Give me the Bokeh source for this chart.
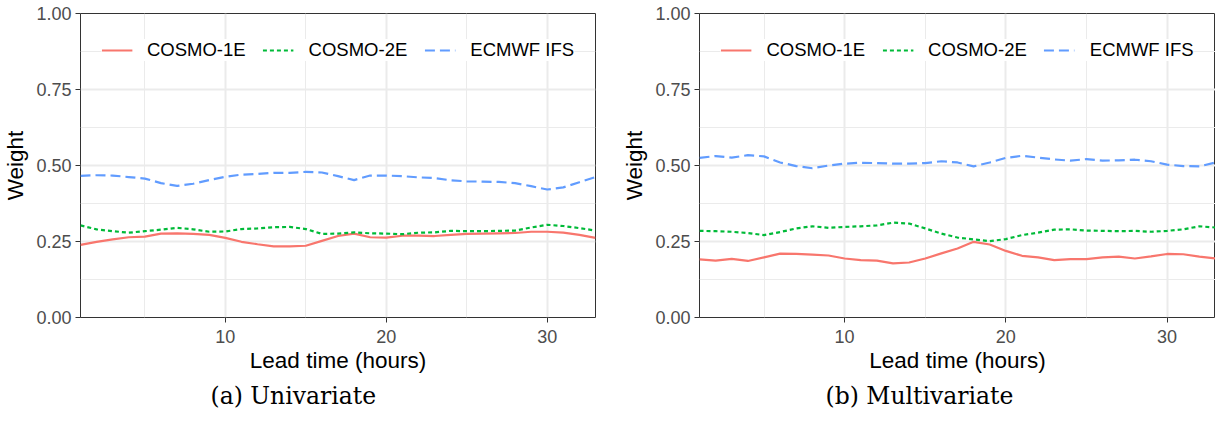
from bokeh.plotting import figure
from bokeh.layouts import row
from bokeh.models import Range1d, FixedTicker, NumeralTickFormatter
from bokeh.embed import file_html
from bokeh.resources import INLINE

# ---- data -------------------------------------------------------------
lead_time = list(range(1, 34))

series_names = ["COSMO-1E", "COSMO-2E", "ECMWF IFS"]

uni_cosmo1e = [0.239, 0.249, 0.257, 0.264, 0.266, 0.276, 0.277, 0.275, 0.272, 0.262,
               0.249, 0.241, 0.234, 0.234, 0.236, 0.252, 0.268, 0.276, 0.264, 0.263,
               0.269, 0.269, 0.268, 0.272, 0.275, 0.276, 0.277, 0.278, 0.282, 0.282,
               0.279, 0.272, 0.262]
uni_cosmo2e = [0.303, 0.290, 0.284, 0.279, 0.284, 0.289, 0.295, 0.290, 0.282, 0.283,
               0.291, 0.293, 0.297, 0.298, 0.291, 0.275, 0.276, 0.280, 0.277, 0.276,
               0.274, 0.279, 0.280, 0.285, 0.284, 0.284, 0.285, 0.286, 0.296, 0.305,
               0.301, 0.294, 0.286]
uni_ecmwf = [0.466, 0.468, 0.467, 0.462, 0.457, 0.442, 0.433, 0.440, 0.452, 0.463,
             0.470, 0.472, 0.476, 0.476, 0.479, 0.477, 0.465, 0.452, 0.467, 0.467,
             0.465, 0.461, 0.459, 0.451, 0.448, 0.447, 0.446, 0.442, 0.432, 0.421,
             0.428, 0.445, 0.462]

multi_cosmo1e = [0.191, 0.187, 0.193, 0.186, 0.198, 0.210, 0.209, 0.207, 0.204, 0.194,
                 0.189, 0.187, 0.178, 0.181, 0.194, 0.211, 0.227, 0.249, 0.240, 0.219,
                 0.203, 0.198, 0.189, 0.192, 0.192, 0.198, 0.200, 0.194, 0.201, 0.209,
                 0.208, 0.200, 0.194]
multi_cosmo2e = [0.285, 0.284, 0.282, 0.278, 0.271, 0.281, 0.293, 0.300, 0.295, 0.298,
                 0.300, 0.303, 0.312, 0.309, 0.293, 0.276, 0.263, 0.257, 0.251, 0.258,
                 0.271, 0.279, 0.289, 0.290, 0.286, 0.285, 0.284, 0.285, 0.282, 0.285,
                 0.290, 0.300, 0.296]
multi_ecmwf = [0.525, 0.531, 0.526, 0.534, 0.530, 0.510, 0.498, 0.491, 0.500, 0.506,
               0.509, 0.508, 0.506, 0.506, 0.508, 0.514, 0.510, 0.497, 0.510, 0.525,
               0.532, 0.526, 0.520, 0.516, 0.521, 0.516, 0.517, 0.519, 0.514, 0.503,
               0.498, 0.497, 0.510]

x_ticks = [10, 20, 30]
x_minor = [5, 15, 25]
y_ticks = [0.0, 0.25, 0.5, 0.75, 1.0]
y_minor = [0.125, 0.375, 0.625, 0.875]

x_label = "Lead time (hours)"
y_label = "Weight"
captions = ["(a) Univariate", "(b) Multivariate"]

# ---- style ------------------------------------------------------------
colors = ["#F8766D", "#00BA38", "#619CFF"]
dashes = ["solid", "4 3", "10 5"]
SANS = "Liberation Sans"

TOP = 13
BOTTOM = 104
FRAME_H = 304


def make_panel(values, caption, width, border_left, border_right, cap_offset):
    p = figure(width=width, height=TOP + FRAME_H + BOTTOM,
               min_border_left=border_left, min_border_right=border_right,
               min_border_top=TOP, min_border_bottom=BOTTOM,
               x_range=Range1d(1, 33), y_range=Range1d(0, 1),
               output_backend="svg", toolbar_location=None,
               title=caption, title_location="below")
    p.background_fill_color = "white"
    p.border_fill_color = "white"
    p.outline_line_color = "#333333"
    p.outline_line_width = 1

    p.xaxis.ticker = FixedTicker(ticks=x_ticks, minor_ticks=x_minor)
    p.yaxis.ticker = FixedTicker(ticks=y_ticks, minor_ticks=y_minor)
    p.yaxis.formatter = NumeralTickFormatter(format="0.00")
    p.xaxis.formatter = NumeralTickFormatter(format="0")

    p.grid.grid_line_color = "#EBEBEB"
    p.grid.grid_line_width = 2
    p.grid.minor_grid_line_color = "#EBEBEB"
    p.grid.minor_grid_line_width = 1

    p.axis.axis_line_color = None
    p.axis.major_tick_line_color = "#333333"
    p.axis.major_tick_out = 5
    p.axis.major_tick_in = 0
    p.axis.minor_tick_line_color = None
    p.axis.major_label_text_font = SANS
    p.axis.major_label_text_font_size = "18px"
    p.axis.major_label_text_color = "#4D4D4D"
    p.yaxis.major_label_standoff = 4
    p.xaxis.major_label_standoff = 7
    p.axis.axis_label_text_font = SANS
    p.axis.axis_label_text_font_size = "22.5px"
    p.axis.axis_label_text_font_style = "normal"
    p.axis.axis_label_text_color = "black"
    p.yaxis.axis_label_standoff = 5
    p.xaxis.axis_label_standoff = 2
    p.xaxis.axis_label = x_label
    p.yaxis.axis_label = y_label

    for name, vals, c, d in zip(series_names, values, colors, dashes):
        p.line(lead_time, vals, color=c, line_width=2.2, line_dash=d,
               legend_label=name)

    lg = p.legend[0]
    lg.location = "top_center"
    lg.orientation = "horizontal"
    lg.label_text_font = SANS
    lg.label_text_font_size = "18.5px"
    lg.label_text_color = "black"
    lg.border_line_color = None
    lg.background_fill_color = "white"
    lg.background_fill_alpha = 1.0
    lg.glyph_width = 31
    lg.glyph_height = 20
    lg.label_standoff = 15
    lg.spacing = 17
    lg.padding = 9
    lg.margin = 26

    p.title.align = "left"
    p.title.offset = cap_offset
    p.title.text_font = "DejaVu Serif"
    p.title.text_font_size = "23.5px"
    p.title.text_font_style = "normal"
    p.title.text_color = "black"
    p.title.standoff = 8
    return p


p1 = make_panel([uni_cosmo1e, uni_cosmo2e, uni_ecmwf], captions[0], 619, 73, 24, 130)
p2 = make_panel([multi_cosmo1e, multi_cosmo2e, multi_ecmwf], captions[1], 596, 74, 0, 126)

layout = row(p1, p2)
open("out.html", "w").write(file_html(layout, INLINE))
